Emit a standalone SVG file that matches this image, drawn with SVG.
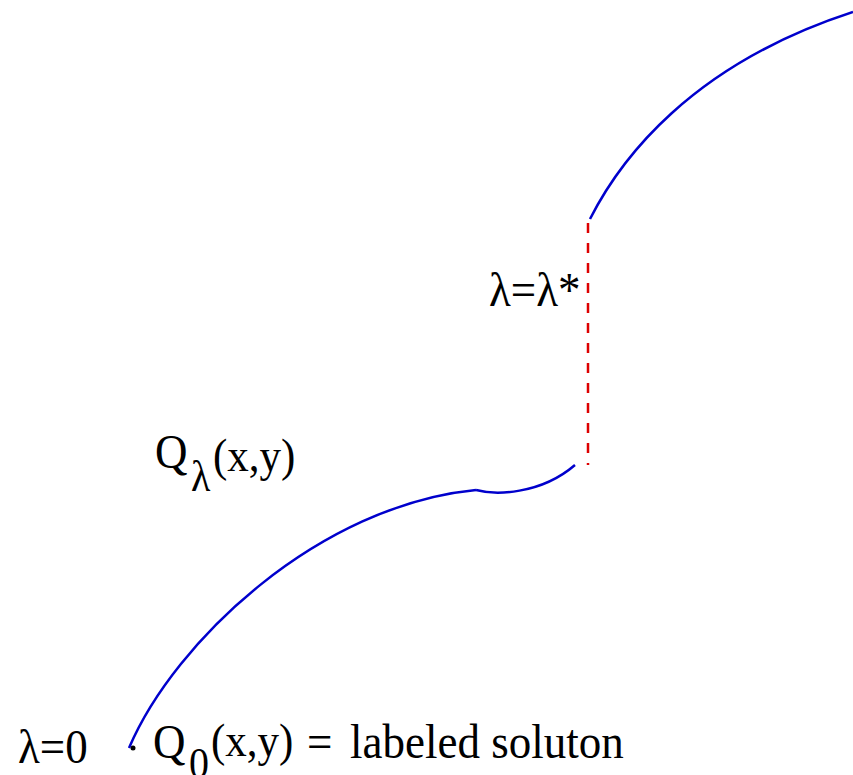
<svg xmlns="http://www.w3.org/2000/svg" width="853" height="775" viewBox="0 0 853 775">
<style>
.t{font-family:"Liberation Serif","Times New Roman",serif;fill:#000}
.b{fill:none;stroke:#0000cc;stroke-width:2.5;stroke-linecap:butt}
.r{fill:none;stroke:#dd0000;stroke-width:2.5;stroke-dasharray:10 10}
</style>
<rect width="853" height="775" fill="#fff"/>
<g id="connectors">
<path class="b" d="M590,219 C620,160 690,65 853,12"/>
<path class="b" d="M129,748 C175,640 320,505 476,490"/>
<path class="b" d="M476,490 C495,495 540,495 575,465"/>
<line class="r" x1="588" y1="223" x2="588" y2="465"/>
</g>
<g id="start">
<circle cx="133" cy="748" r="2.5" fill="#000"/>
<text class="t" transform="translate(18,763) scale(1,1.1)" font-size="45">λ=0</text>
<text class="t" transform="translate(153,758) scale(1,1.1)" font-size="45">Q</text>
<text class="t" transform="translate(189,778) scale(1,1.1)" font-size="40">0</text>
<text class="t" transform="translate(211,756) scale(1,1.1)" font-size="43">(x,y)</text>
<text class="t" transform="translate(307,758) scale(1,1.1)" font-size="45">=</text>
<text class="t" transform="translate(350,758) scale(1,1.1)" font-size="45">labeled soluton</text>
</g>
<g id="path-label">
<text class="t" transform="translate(155,468) scale(1,1.1)" font-size="45">Q</text>
<text class="t" transform="translate(191,491) scale(1,1.1)" font-size="40">λ</text>
<text class="t" transform="translate(213,471) scale(1,1.1)" font-size="43">(x,y)</text>
</g>
<g id="critical">
<text class="t" transform="translate(489,306) scale(1,1.1)" font-size="45">λ=λ*</text>
</g>
</svg>
